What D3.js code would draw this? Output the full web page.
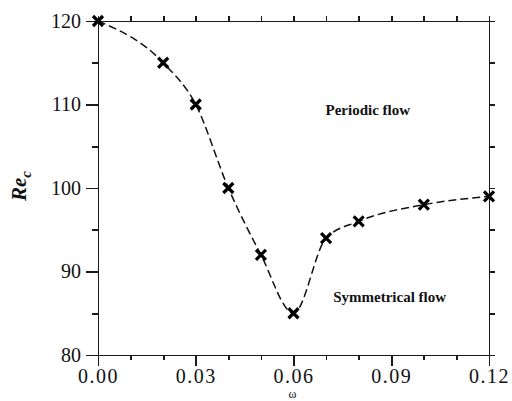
<!DOCTYPE html>
<html>
<head>
<meta charset="utf-8">
<script src="https://cdn.jsdelivr.net/npm/d3@7"></script>
<style>
  html, body { margin: 0; padding: 0; background: #fff; }
  svg { display: block; }
  .axis path, .axis line { stroke: #1a1a1a; stroke-width: 1.7px; shape-rendering: crispEdges; }
  .axis text { font-family: "Liberation Serif", "DejaVu Serif", serif; font-size: 20px; fill: #111; }
</style>
</head>
<body>
<svg id="chart" width="512" height="401"></svg>
<script>
// Critical Reynolds number against rotation rate
const omega = [0.00, 0.02, 0.03, 0.04, 0.05, 0.06, 0.07, 0.08, 0.10, 0.12];
const reCritical = [120, 115, 110, 100, 92, 85, 94, 96, 98, 99];

const xMajorTicks = [0.00, 0.03, 0.06, 0.09, 0.12];
const xMinorTicks = [0.01, 0.02, 0.04, 0.05, 0.07, 0.08, 0.10, 0.11];
const xAllTicks = [0.00, 0.01, 0.02, 0.03, 0.04, 0.05, 0.06, 0.07, 0.08, 0.09, 0.10, 0.11, 0.12];
const yMajorTicks = [80, 90, 100, 110, 120];
const yMinorTicks = [85, 95, 105, 115];
const yAllTicks = [80, 85, 90, 95, 100, 105, 110, 115, 120];

const regionLabels = ["Periodic flow", "Symmetrical flow"];
const regionAnchors = [[0.0828, 108.75], [0.0895, 86.4]];

const svg = d3.select("#chart");
const plotLeft = 98, plotRight = 489, plotTop = 21, plotBottom = 355;

const x = d3.scaleLinear().domain([0, 0.12]).range([plotLeft, plotRight]);
const y = d3.scaleLinear().domain([80, 120]).range([plotBottom, plotTop]);

const serif = '"Liberation Serif", "DejaVu Serif", serif';

// bottom axis: labelled major ticks, then short minor ticks
svg.append("g").attr("class", "axis")
  .attr("transform", `translate(0,${plotBottom})`)
  .call(d3.axisBottom(x).tickValues(xMajorTicks).tickSize(11).tickSizeOuter(0)
    .tickPadding(3).tickFormat(d3.format(".2f")))
  .call(g => g.selectAll("text").style("letter-spacing", "1.5px"));
svg.append("g").attr("class", "axis")
  .attr("transform", `translate(0,${plotBottom})`)
  .call(d3.axisBottom(x).tickValues(xMinorTicks).tickSize(5).tickSizeOuter(0).tickFormat(""))
  .call(g => g.select(".domain").remove());

// left axis
svg.append("g").attr("class", "axis")
  .attr("transform", `translate(${plotLeft},0)`)
  .call(d3.axisLeft(y).tickValues(yMajorTicks).tickSize(12).tickSizeOuter(0).tickPadding(5));
svg.append("g").attr("class", "axis")
  .attr("transform", `translate(${plotLeft},0)`)
  .call(d3.axisLeft(y).tickValues(yMinorTicks).tickSize(6).tickSizeOuter(0).tickFormat(""))
  .call(g => g.select(".domain").remove());

// top and right frame axes without labels
svg.append("g").attr("class", "axis")
  .attr("transform", `translate(0,${plotTop})`)
  .call(d3.axisTop(x).tickValues(xAllTicks).tickSize(5).tickSizeOuter(0).tickFormat(""));
svg.append("g").attr("class", "axis")
  .attr("transform", `translate(${plotRight},0)`)
  .call(d3.axisRight(y).tickValues(yAllTicks).tickSize(6).tickSizeOuter(0).tickFormat(""));

// dashed fitted curve
const line = d3.line()
  .x((d, i) => x(omega[i]))
  .y(d => y(d))
  .curve(d3.curveMonotoneX);

svg.append("path")
  .attr("d", line(reCritical))
  .attr("fill", "none")
  .attr("stroke", "#111")
  .attr("stroke-width", 1.5)
  .attr("stroke-dasharray", "8,4");

// cross markers
const s = 5;
const marks = svg.append("g").selectAll("g")
  .data(reCritical)
  .join("g")
  .attr("transform", (d, i) => `translate(${x(omega[i])},${y(d)})`);
marks.append("path")
  .attr("d", `M${-s},${-s}L${s},${s}M${-s},${s}L${s},${-s}`)
  .attr("stroke", "#000")
  .attr("stroke-width", 3.2)
  .attr("fill", "none");

// region annotations
svg.append("g").selectAll("text")
  .data(regionLabels)
  .join("text")
  .attr("x", (d, i) => x(regionAnchors[i][0]))
  .attr("y", (d, i) => y(regionAnchors[i][1]))
  .attr("text-anchor", "middle")
  .style("font-family", serif)
  .style("font-weight", "bold")
  .style("font-size", "15px")
  .attr("fill", "#111")
  .text(d => d);

// axis titles
const yTitle = svg.append("text")
  .attr("transform", "translate(26,201) rotate(-90)")
  .style("font-family", serif)
  .style("font-weight", "bold")
  .style("font-style", "italic")
  .style("font-size", "21px")
  .attr("fill", "#111");
yTitle.append("tspan").text("Re");
yTitle.append("tspan").attr("dy", 5).style("font-size", "15px").text("c");

svg.append("text")
  .attr("x", x(0.06) - 1)
  .attr("y", 398)
  .attr("text-anchor", "middle")
  .style("font-family", serif)
  .style("font-size", "12px")
  .attr("fill", "#111")
  .text("ω");
</script>
</body>
</html>
